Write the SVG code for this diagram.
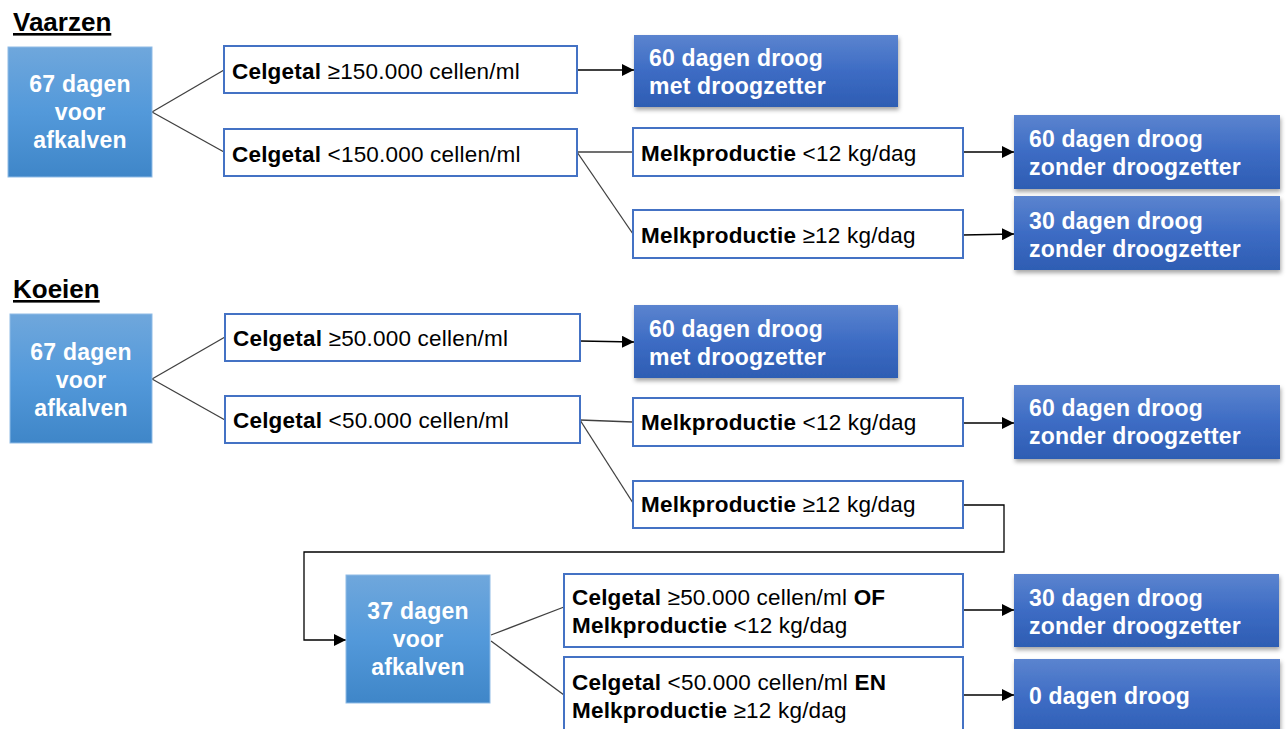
<svg xmlns="http://www.w3.org/2000/svg" width="1288" height="729" viewBox="0 0 1288 729">
<defs>
<linearGradient id="lb" x1="0" y1="0" x2="0" y2="1">
<stop offset="0" stop-color="#6fa7dc"/><stop offset="0.5" stop-color="#5399da"/><stop offset="1" stop-color="#3f86c8"/>
</linearGradient>
<linearGradient id="db" x1="0" y1="0" x2="0" y2="1">
<stop offset="0" stop-color="#5b84cf"/><stop offset="0.5" stop-color="#3d6cc4"/><stop offset="1" stop-color="#2e5db3"/>
</linearGradient>
<filter id="sh" x="-10%" y="-10%" width="125%" height="130%">
<feDropShadow dx="1" dy="3" stdDeviation="2" flood-color="#000" flood-opacity="0.35"/>
</filter>
<marker id="ar" viewBox="0 0 12 12" refX="12" refY="6" markerWidth="12" markerHeight="12" markerUnits="userSpaceOnUse" orient="auto">
<path d="M0,0 L12,6 L0,12 Z" fill="#000"/>
</marker>
</defs>
<style>
text{font-family:"Liberation Sans",Arial,sans-serif;}
.title{font-size:26px;font-weight:bold;text-decoration:underline;fill:#000;}
.lbox{fill:url(#lb);stroke:#8fbbe6;stroke-width:1;}
.dbox{fill:url(#db);filter:url(#sh);}
.wbox{fill:#fff;stroke:#4472c4;stroke-width:2;}
.wt{font-size:23px;font-weight:bold;fill:#fff;letter-spacing:0.2px;}
.bt{font-size:22.5px;fill:#000;letter-spacing:0.2px;}
.b{font-weight:bold;}
.ln{stroke:#404040;stroke-width:1.3;fill:none;}
.arr{stroke:#000;stroke-width:1.3;fill:none;marker-end:url(#ar);}
</style>
<rect width="1288" height="729" fill="#fff"/>
<text class="title" x="13" y="31">Vaarzen</text>
<text class="title" x="13" y="298">Koeien</text>

<g id="connectors">
<line class="ln" x1="152" y1="112" x2="224" y2="70"/>
<line class="ln" x1="152" y1="112" x2="224" y2="152"/>
<line class="ln" x1="577" y1="152" x2="633" y2="152"/>
<line class="ln" x1="577" y1="152" x2="633" y2="234"/>
<line class="ln" x1="152" y1="379" x2="225" y2="337"/>
<line class="ln" x1="152" y1="379" x2="225" y2="420"/>
<line class="ln" x1="580" y1="420" x2="633" y2="422"/>
<line class="ln" x1="580" y1="420" x2="633" y2="503"/>
<line class="ln" x1="491" y1="635" x2="564" y2="607"/>
<line class="ln" x1="491" y1="641" x2="564" y2="695"/>
<line class="arr" x1="577" y1="70" x2="634" y2="70"/>
<line class="arr" x1="963" y1="152" x2="1014" y2="152"/>
<line class="arr" x1="963" y1="235" x2="1014" y2="234"/>
<line class="arr" x1="580" y1="341" x2="634" y2="342"/>
<line class="arr" x1="963" y1="423" x2="1014" y2="423"/>
<line class="arr" x1="963" y1="610" x2="1014" y2="610"/>
<line class="arr" x1="963" y1="695" x2="1014" y2="695"/>
<path class="arr" d="M963,505 H1004 V552 H304 V640 H346"/>
</g>

<g id="v-start">
<rect class="lbox" x="8" y="47" width="144" height="130"/>
<text class="wt" text-anchor="middle"><tspan x="80" y="92">67 dagen</tspan><tspan x="80" y="120">voor</tspan><tspan x="80" y="148">afkalven</tspan></text>
</g>
<g id="v-cel-hi">
<rect class="wbox" x="224" y="46" width="353" height="47"/>
<text class="bt" x="232" y="79"><tspan class="b">Celgetal</tspan> ≥150.000 cellen/ml</text>
</g>
<g id="v-cel-lo">
<rect class="wbox" x="224" y="129" width="353" height="47"/>
<text class="bt" x="232" y="162"><tspan class="b">Celgetal</tspan> &lt;150.000 cellen/ml</text>
</g>
<g id="v-res-60met">
<rect class="dbox" x="634" y="35" width="264" height="72"/>
<text class="wt"><tspan x="649" y="66">60 dagen droog</tspan><tspan x="649" y="94">met droogzetter</tspan></text>
</g>
<g id="v-melk-lo">
<rect class="wbox" x="633" y="128" width="330" height="48"/>
<text class="bt" x="641" y="161"><tspan class="b">Melkproductie</tspan> &lt;12 kg/dag</text>
</g>
<g id="v-melk-hi">
<rect class="wbox" x="633" y="210" width="330" height="48"/>
<text class="bt" x="641" y="243"><tspan class="b">Melkproductie</tspan> ≥12 kg/dag</text>
</g>
<g id="v-res-60zonder">
<rect class="dbox" x="1014" y="115" width="266" height="74"/>
<text class="wt"><tspan x="1029" y="147">60 dagen droog</tspan><tspan x="1029" y="175">zonder droogzetter</tspan></text>
</g>
<g id="v-res-30zonder">
<rect class="dbox" x="1014" y="196" width="266" height="74"/>
<text class="wt"><tspan x="1029" y="229">30 dagen droog</tspan><tspan x="1029" y="257">zonder droogzetter</tspan></text>
</g>

<g id="k-start">
<rect class="lbox" x="10" y="314" width="142" height="129"/>
<text class="wt" text-anchor="middle"><tspan x="81" y="360">67 dagen</tspan><tspan x="81" y="388">voor</tspan><tspan x="81" y="416">afkalven</tspan></text>
</g>
<g id="k-cel-hi">
<rect class="wbox" x="225" y="314" width="355" height="47"/>
<text class="bt" x="233" y="346"><tspan class="b">Celgetal</tspan> ≥50.000 cellen/ml</text>
</g>
<g id="k-cel-lo">
<rect class="wbox" x="225" y="396" width="355" height="47"/>
<text class="bt" x="233" y="428"><tspan class="b">Celgetal</tspan> &lt;50.000 cellen/ml</text>
</g>
<g id="k-res-60met">
<rect class="dbox" x="634" y="305" width="264" height="73"/>
<text class="wt"><tspan x="649" y="337">60 dagen droog</tspan><tspan x="649" y="365">met droogzetter</tspan></text>
</g>
<g id="k-melk-lo">
<rect class="wbox" x="633" y="398" width="330" height="48"/>
<text class="bt" x="641" y="430"><tspan class="b">Melkproductie</tspan> &lt;12 kg/dag</text>
</g>
<g id="k-melk-hi">
<rect class="wbox" x="633" y="481" width="330" height="47"/>
<text class="bt" x="641" y="512"><tspan class="b">Melkproductie</tspan> ≥12 kg/dag</text>
</g>
<g id="k-res-60zonder">
<rect class="dbox" x="1014" y="385" width="266" height="74"/>
<text class="wt"><tspan x="1029" y="416">60 dagen droog</tspan><tspan x="1029" y="444">zonder droogzetter</tspan></text>
</g>
<g id="k-37">
<rect class="lbox" x="346" y="575" width="144" height="128"/>
<text class="wt" text-anchor="middle"><tspan x="418" y="619">37 dagen</tspan><tspan x="418" y="647">voor</tspan><tspan x="418" y="675">afkalven</tspan></text>
</g>
<g id="k-of">
<rect class="wbox" x="564" y="574" width="399" height="73"/>
<text class="bt"><tspan x="572" y="605"><tspan class="b">Celgetal</tspan> ≥50.000 cellen/ml <tspan class="b">OF</tspan></tspan><tspan x="572" y="633"><tspan class="b">Melkproductie</tspan> &lt;12 kg/dag</tspan></text>
</g>
<g id="k-en">
<rect class="wbox" x="564" y="657" width="399" height="80"/>
<text class="bt"><tspan x="572" y="690"><tspan class="b">Celgetal</tspan> &lt;50.000 cellen/ml <tspan class="b">EN</tspan></tspan><tspan x="572" y="718"><tspan class="b">Melkproductie</tspan> ≥12 kg/dag</tspan></text>
</g>
<g id="k-res-30zonder">
<rect class="dbox" x="1014" y="574" width="265" height="73"/>
<text class="wt"><tspan x="1029" y="606">30 dagen droog</tspan><tspan x="1029" y="634">zonder droogzetter</tspan></text>
</g>
<g id="k-res-0">
<rect class="dbox" x="1014" y="659" width="266" height="80"/>
<text class="wt"><tspan x="1029" y="704">0 dagen droog</tspan></text>
</g>
</svg>
